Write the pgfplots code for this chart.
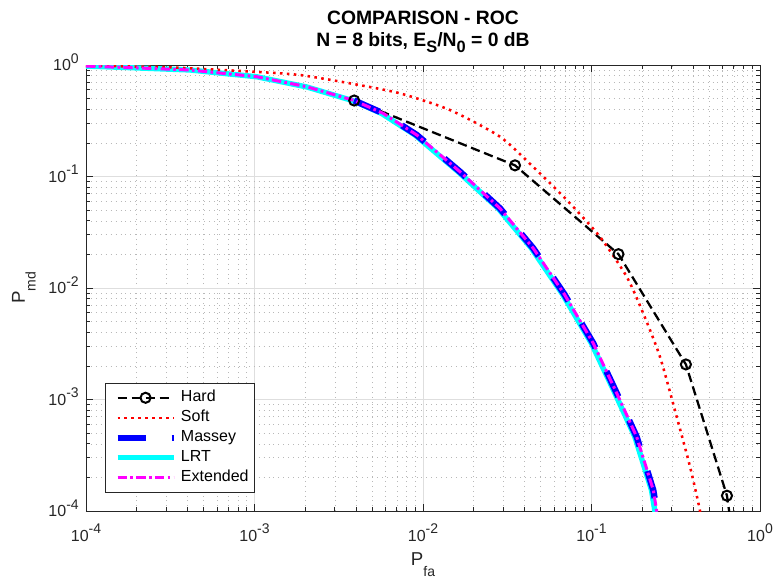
\documentclass[border=0pt]{standalone}
\usepackage{pgfplots}
\pgfplotsset{compat=1.18}
\usepackage{fontspec}
\setmainfont{Liberation Sans}
\definecolor{axgray}{RGB}{38,38,38}
\definecolor{mred}{RGB}{255,0,0}
\definecolor{mblue}{RGB}{0,0,255}
\definecolor{mcyan}{RGB}{0,255,255}
\definecolor{mmagenta}{RGB}{255,0,255}
\newcommand{\tp}[1]{10\raisebox{5.5pt}{\fontsize{10.5}{10.5}\selectfont #1}}
\begin{document}
\begin{tikzpicture}
\useasboundingbox (-64.5pt,-52.5pt) rectangle (518.25pt,383.25pt);
\begin{axis}[
  xmode=log, ymode=log,
  scale only axis, width=505.5pt, height=334.5pt,
  xmin=1e-4, xmax=1, ymin=1e-4, ymax=1,
  xtick={1e-4,1e-3,1e-2,1e-1,1},
  ytick={1e-4,1e-3,1e-2,1e-1,1},
  xticklabels={\tp{-4},\tp{-3},\tp{-2},\tp{-1},\tp{0}},
  yticklabels={\tp{-4},\tp{-3},\tp{-2},\tp{-1},\tp{0}},
  minor xtick={2e-4,3e-4,4e-4,5e-4,6e-4,7e-4,8e-4,9e-4,2e-3,3e-3,4e-3,5e-3,6e-3,7e-3,8e-3,9e-3,2e-2,3e-2,4e-2,5e-2,6e-2,7e-2,8e-2,9e-2,2e-1,3e-1,4e-1,5e-1,6e-1,7e-1,8e-1,9e-1},
  minor ytick={2e-4,3e-4,4e-4,5e-4,6e-4,7e-4,8e-4,9e-4,2e-3,3e-3,4e-3,5e-3,6e-3,7e-3,8e-3,9e-3,2e-2,3e-2,4e-2,5e-2,6e-2,7e-2,8e-2,9e-2,2e-1,3e-1,4e-1,5e-1,6e-1,7e-1,8e-1,9e-1},
  grid=both,
  major grid style={color=black!13, line width=0.5pt},
  minor grid style={color=black!28, line width=0.5pt, dash pattern=on 0.5pt off 3.2pt},
  tick align=inside, major tick length=5pt, minor tick length=3pt,
  axis line style={axgray, line width=0.6pt},
  tick style={axgray, line width=0.6pt},
  xticklabel style={font=\fontsize{12}{14}\selectfont, text=axgray, anchor=base, inner sep=0pt, yshift=-22.5pt},
  yticklabel style={font=\fontsize{12}{14}\selectfont, text=axgray, anchor=base east, inner sep=0pt, xshift=-5.25pt, yshift=-4.3pt},
  title={COMPARISON - ROC\\N = 8 bits, E\raisebox{-4.5pt}{\fontsize{12.3}{12}\selectfont S}/N\raisebox{-4.5pt}{\fontsize{12.3}{12}\selectfont 0} = 0 dB},
  title style={font=\bfseries\fontsize{14.5}{16.5}\selectfont, align=center, at={(axis description cs:0.5,1)}, anchor=south, inner sep=0pt, yshift=3pt},
  xlabel={P\raisebox{-8.5pt}{\fontsize{10.5}{10.5}\selectfont fa}},
  ylabel={P\raisebox{-8pt}{\fontsize{10.5}{10.5}\selectfont md}},
  xlabel style={font=\fontsize{14}{16}\selectfont, text=axgray, at={(axis description cs:0.5,-0.1211)}, anchor=base, inner sep=0pt},
  ylabel style={font=\fontsize{14}{16}\selectfont, text=axgray, at={(axis description cs:-0.0905,0.5)}, anchor=base, inner sep=0pt},
  legend cell align=left,
  legend image code/.code={\path (0pt,0pt); \draw[mark indices={2}] plot coordinates {(2.75pt,0pt) (23.75pt,0pt) (44.75pt,0pt)};},
  legend style={at={(axis description cs:0.0282,0.041)}, anchor=south west, draw=axgray, line width=0.6pt, fill=white,
    inner xsep=4pt, inner ysep=3.4pt, font=\fontsize{12}{14}\selectfont,
    nodes={inner sep=0pt, text height=10.5pt, text depth=4.5pt},
    /tikz/every odd column/.append style={column sep=3.2pt}},
]
% LRT (drawn first so that the dashed Massey curve stays visible)
\addplot[mcyan, line width=4pt, forget plot] coordinates {
(1e-4,0.978) (2e-4,0.942) (4.14e-4,0.902) (1.03e-3,0.785) (2.04e-3,0.636) (3.85e-3,0.478)
(5.66e-3,0.369) (8.95e-3,0.236) (0.01617,0.1104) (0.02792,0.0518) (0.04401,0.0227)
(0.0673,0.00880) (0.0999,0.00319) (0.1378,0.001137) (0.1807,4.64e-4) (0.2269,1.54e-4)
(0.2377,1e-4) (0.2486,6e-5)};
% Hard
\addplot[black, line width=1.7pt, dash pattern=on 7pt off 3.5pt, mark=o, mark size=3.8pt,
  mark options={solid, line width=1.5pt}, mark indices={1,2,3,4,5}] coordinates {
(0.00390625,0.4804) (0.03515625,0.1259) (0.14453125,0.02012) (0.36328125,0.002063)
(0.63671875,0.0001372) (0.85546875,0.00000576)};
\addlegendentry{Hard}
% Soft
\addplot[mred, line width=1.9pt, dash pattern=on 1.9pt off 3.3pt, smooth, tension=0.4] coordinates {
(1e-4,0.985) (3e-4,0.955) (1e-3,0.87) (1.862e-3,0.813) (3.69e-3,0.685) (7.30e-3,0.557)
(0.01445,0.395) (0.02864,0.2275) (0.04498,0.1224) (0.0713,0.0616) (0.1122,0.0288)
(0.1618,0.01262) (0.2023,0.00597) (0.2549,0.00242) (0.3203,7.01e-4) (0.3843,2.50e-4)
(0.4406,1e-4) (0.47,5e-5)};
\addlegendentry{Soft}
% Massey
\addplot[mblue, line width=4.75pt, dash pattern=on 21pt off 19.5pt] coordinates {
(0.00390625,0.4804) (5.80e-3,0.369) (9.18e-3,0.236) (0.01658,0.1104) (0.02864,0.0518)
(0.04514,0.0227) (0.0690,0.00880) (0.1025,0.00319) (0.1413,0.001137) (0.1853,4.64e-4)
(0.2327,1.54e-4) (0.2438,1e-4) (0.255,6e-5)};
\addlegendentry{Massey}
\addlegendimage{mcyan, line width=4pt}
\addlegendentry{LRT}
% Extended
\addplot[mmagenta, line width=2.25pt, dash pattern=on 7pt off 2.5pt on 2pt off 2.5pt] coordinates {
(1e-4,0.978) (2e-4,0.942) (4.14e-4,0.902) (1.03e-3,0.785) (2.04e-3,0.639) (0.00390625,0.4804)
(5.80e-3,0.369) (9.18e-3,0.236) (0.01658,0.1104) (0.02864,0.0518) (0.04514,0.0227)
(0.0690,0.00880) (0.1025,0.00319) (0.1413,0.001137) (0.1853,4.64e-4) (0.2327,1.54e-4)
(0.2438,1e-4) (0.255,6e-5)};
\addlegendentry{Extended}
\end{axis}
\end{tikzpicture}
\end{document}
